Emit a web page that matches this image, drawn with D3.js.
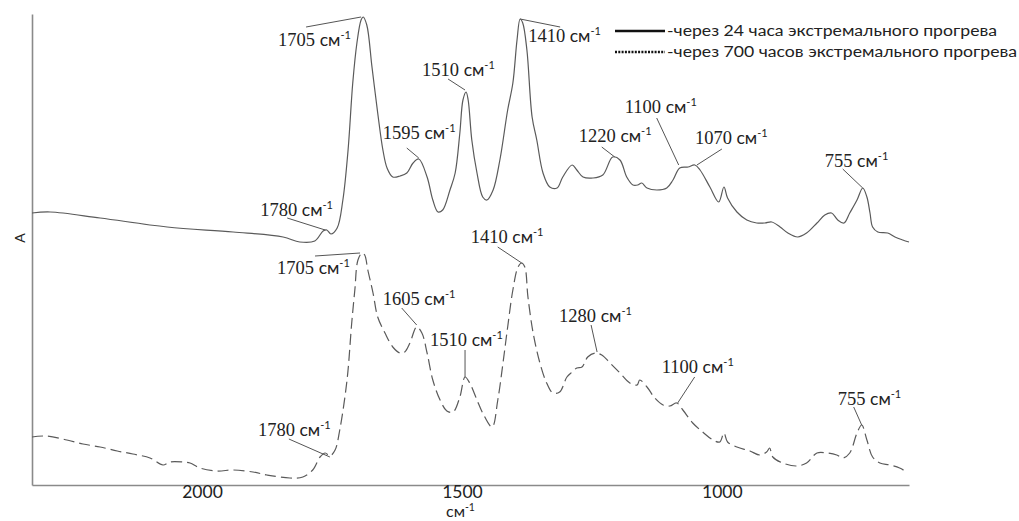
<!DOCTYPE html>
<html><head><meta charset="utf-8">
<script src="https://cdn.jsdelivr.net/npm/d3@7"></script>
<style>
html,body{margin:0;padding:0;background:#fff;}
svg{display:block;}
</style></head>
<body><svg id="c" width="1019" height="521"></svg>
<script>
// wavenumbers (cm-1) and absorbance (a.u.)
const wn24 = [2327,2292,2196,2067,1940,1844,1812,1783,1767,1760,1752,1740,1729,1719,1710,1702,1694,1690,1683,1673,1662,1652,1644,1633,1619,1606,1594,1583,1567,1556,1546,1537,1523,1513,1504,1498,1492,1488,1481,1471,1460,1452,1440,1427,1412,1402,1394,1388,1383,1375,1365,1356,1344,1331,1317,1306,1288,1279,1267,1248,1229,1210,1196,1183,1171,1162,1154,1144,1125,1106,1094,1081,1065,1052,1042,1023,1006,996,989,971,952,933,917,904,888,873,854,837,817,802,789,777,765,754,740,729,721,715,710,700,681,667,652,640];
const abs24 = [54.4,54.6,53.4,51.6,50.6,49.6,48.6,48.8,50.8,51.0,50.2,51.4,57.0,67.0,80.4,88.4,93.0,93.6,92.0,83.6,74.4,67.0,63.4,61.6,61.8,62.4,64.4,65.2,61.6,57.0,54.6,55.0,59.0,62.4,70.4,77.0,78.6,77.0,69.0,62.4,57.6,57.0,59.0,65.0,75.0,80.4,89.0,93.2,92.4,87.0,73.6,69.0,62.4,59.6,59.4,61.6,64.0,63.0,61.6,61.4,62.0,65.6,65.0,61.6,60.0,60.0,60.4,59.4,59.0,59.4,61.0,63.4,63.6,64.0,63.0,59.6,56.6,59.6,57.4,54.6,53.0,52.4,52.4,52.6,51.6,50.4,49.6,50.4,52.4,54.0,54.4,53.0,52.4,54.4,57.0,59.4,57.6,54.4,51.6,50.6,50.4,49.6,49.0,48.6];

const wn700 = [2327,2298,2260,2229,2196,2163,2133,2100,2075,2062,2037,2023,2004,1971,1940,1902,1875,1831,1806,1787,1773,1763,1754,1744,1735,1721,1712,1706,1700,1692,1687,1681,1671,1662,1648,1633,1619,1610,1600,1587,1577,1567,1556,1542,1529,1517,1504,1494,1485,1471,1460,1442,1431,1421,1412,1402,1392,1385,1379,1373,1363,1350,1337,1325,1312,1298,1288,1279,1269,1258,1244,1231,1215,1196,1177,1163,1158,1144,1129,1113,1100,1087,1075,1056,1037,1017,1004,996,989,971,946,927,914,908,902,883,856,837,817,798,779,767,754,740,731,721,710,696,677,658,642];
const abs700 = [9.6,9.8,9.0,8.2,7.6,6.8,6.2,5.4,4.0,4.6,4.6,4.4,3.4,2.8,3.0,2.6,2.0,1.4,1.6,3.0,5.6,6.4,5.8,7.0,11.0,21.0,32.4,39.0,45.0,46.4,46.0,43.0,38.4,33.6,30.4,27.6,26.4,26.6,28.4,31.6,30.4,26.4,21.0,17.0,14.8,14.6,17.6,21.6,20.4,17.0,14.4,11.6,17.0,24.4,31.6,39.0,43.6,44.4,43.6,37.6,30.4,24.4,20.4,18.4,18.6,21.6,22.6,23.4,23.6,25.6,26.4,26.0,24.4,22.4,20.4,20.0,21.0,19.6,17.4,16.0,15.8,16.4,15.0,12.4,10.6,9.0,8.6,10.4,8.6,7.6,6.8,6.0,6.6,7.4,5.6,4.4,3.8,4.4,6.4,6.4,6.0,5.4,6.4,10.4,12.0,9.0,5.6,4.4,4.0,3.4,2.4];

const xTicks = [2000, 1500, 1000];
const seriesNames = ["через 24 часа экстремального прогрева", "через 700 часов экстремального прогрева"];

// peak annotations: label, series index, point on curve (wavenumber, absorbance)
const peakLabels = ["1705","1780","1595","1510","1410","1220","1100","1070","755",
                    "1705","1780","1605","1510","1410","1280","1100","755"];
const peakSeries = [0,0,0,0,0,0,0,0,0, 1,1,1,1,1,1,1,1];
const peakWn  = [1694,1763,1583,1494,1388,1206,1083,1048,729, 1696,1754,1587,1494,1385,1240,1085,731];
const peakAbs = [93.6,51.0,65.4,79.0,93.2,65.6,64.0,64.0,59.4, 46.4,5.6,32.0,21.6,44.4,26.6,16.4,12.0];

// layout (pixel offsets of leader start and text from the curve point)
const leaderOff = [[-55,10],[-38,-12],[-12,-10],[-17,-11],[40,8],[-13,-10],[-22,-47],[25,-16],[-20,-19],
                   [-45,3],[-41,-18],[-15,-17],[0,-27],[-24,-16],[-6,-27],[17,-26],[-8,-18]];
const textOff = [[-83,29],[-65,-14],[-36,-19],[-43,-14],[8,23],[-36,-15],[-54,-52],[-2,-21],[-38,-21],
                 [-83,21],[-72,-21],[-34,-20],[-35,-31],[-51,-20],[-38,-30],[-16,-30],[-24,-20]];

const svg = d3.select("#c");
const L = 32, R = 909, T = 14, B = 485;
const x = d3.scaleLinear().domain([2327, 640]).range([L, R]);
const y = d3.scaleLinear().domain([0, 94.2]).range([B, T]);

const sans = "Lato, 'Open Sans', sans-serif";
const serif = "'Liberation Serif', 'DejaVu Serif', serif";
const axisColor = "#8a8a8a";

// axes
const gx = svg.append("g").attr("transform", `translate(0,${B})`)
  .call(d3.axisBottom(x).tickValues(xTicks).tickSize(0).tickSizeOuter(0).tickPadding(1).tickFormat(d3.format("d")));
gx.select(".domain").attr("stroke", axisColor).attr("stroke-width", 1.6);
gx.selectAll("text").attr("font-family", sans).attr("font-size", 17.5).attr("fill", "#222");

const gy = svg.append("g").attr("transform", `translate(${L},0)`)
  .call(d3.axisLeft(y).tickValues([]).tickSizeOuter(0));
gy.select(".domain").attr("stroke", axisColor).attr("stroke-width", 1.6);

// axis titles
const xt = svg.append("text").attr("x", 446).attr("y", 517).attr("font-family", sans).attr("font-size", 16).attr("fill", "#222");
xt.append("tspan").text("см");
xt.append("tspan").attr("font-size", 10.5).attr("dy", -6).text("-1");
svg.append("text").attr("transform", "translate(25,238) rotate(-90)").attr("text-anchor", "middle")
  .attr("font-family", sans).attr("font-size", 14).attr("fill", "#222").text("A");

// curves
const line = d3.line().x(d => x(d[0])).y(d => y(d[1])).curve(d3.curveCatmullRom.alpha(0.5));
svg.append("path").datum(d3.zip(wn24, abs24)).attr("d", line)
  .attr("fill", "none").attr("stroke", "#5a5a5a").attr("stroke-width", 1.2);
svg.append("path").datum(d3.zip(wn700, abs700)).attr("d", line)
  .attr("fill", "none").attr("stroke", "#5a5a5a").attr("stroke-width", 1.2).attr("stroke-dasharray", "11,5");

// annotations
peakLabels.forEach((lab, i) => {
  const px = x(peakWn[i]), py = y(peakAbs[i]);
  svg.append("line").attr("x1", px + leaderOff[i][0]).attr("y1", py + leaderOff[i][1])
    .attr("x2", px).attr("y2", py).attr("stroke", "#555").attr("stroke-width", 1);
  const t = svg.append("text").attr("x", px + textOff[i][0]).attr("y", py + textOff[i][1]).attr("fill", "#222");
  t.append("tspan").attr("font-family", serif).attr("font-size", 18.5).text(lab + " ");
  t.append("tspan").attr("font-family", sans).attr("font-size", 17.5).text("см");
  t.append("tspan").attr("font-family", sans).attr("font-size", 11).attr("dy", -7).text("-1");
});

// legend
const leg = svg.append("g");
leg.append("line").attr("x1", 615).attr("x2", 665).attr("y1", 31).attr("y2", 31)
  .attr("stroke", "#111").attr("stroke-width", 2.6);
leg.append("line").attr("x1", 615).attr("x2", 665).attr("y1", 52).attr("y2", 52)
  .attr("stroke", "#111").attr("stroke-width", 2.6).attr("stroke-dasharray", "2,1.3");
leg.append("text").attr("x", 667).attr("y", 36).attr("font-family", sans).attr("font-size", 15.5)
  .attr("fill", "#222").attr("textLength", 330).attr("lengthAdjust", "spacingAndGlyphs").text("-" + seriesNames[0]);
leg.append("text").attr("x", 667).attr("y", 57).attr("font-family", sans).attr("font-size", 15.5)
  .attr("fill", "#222").attr("textLength", 350).attr("lengthAdjust", "spacingAndGlyphs").text("-" + seriesNames[1]);
</script></body></html>
